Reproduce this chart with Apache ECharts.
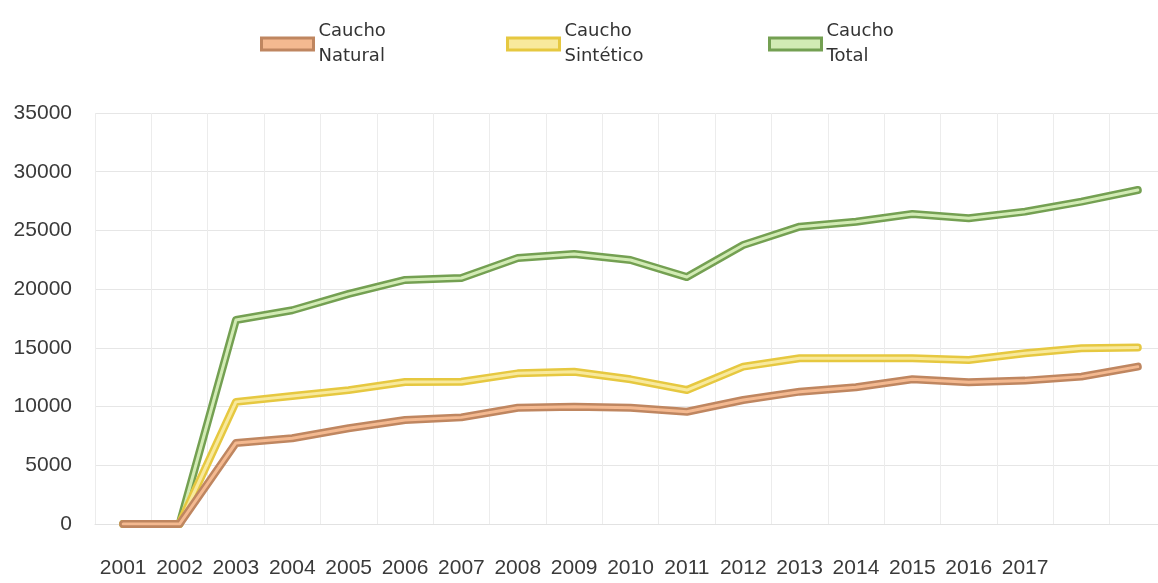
<!DOCTYPE html>
<html>
<head>
<meta charset="utf-8">
<script src="https://cdn.jsdelivr.net/npm/echarts@6/dist/echarts.min.js"></script>
<style>
html,body{margin:0;padding:0;background:#fff;}
#chart{width:1158px;height:583px;}
</style>
</head>
<body>
<div id="chart"></div>
<script>
// Category labels (19 points; last two have no printed label)
const categories = ["2001","2002","2003","2004","2005","2006","2007","2008","2009","2010","2011","2012","2013","2014","2015","2016","2017","",""];
const yTicks = [0, 5000, 10000, 15000, 20000, 25000, 30000, 35000];

const seriesNames = ["Caucho Natural", "Caucho Sintético", "Caucho Total"];
const natural   = [0, 0, 6900, 7300, 8150, 8860, 9080, 9900, 9990, 9900, 9560, 10560, 11270, 11640, 12320, 12070, 12210, 12550, 13400];
const sintetico = [0, 0, 10400, 10900, 11400, 12090, 12120, 12830, 12970, 12320, 11410, 13400, 14110, 14110, 14110, 13970, 14540, 14960, 15020];
const total     = [0, 0, 17370, 18200, 19600, 20780, 20950, 22650, 22990, 22480, 21030, 23760, 25320, 25740, 26400, 26030, 26600, 27450, 28440];

const colors = {
  "Caucho Natural":   {dark: "#bf8660", light: "#f4b990"},
  "Caucho Sintético": {dark: "#e6c840", light: "#f8e99c"},
  "Caucho Total":     {dark: "#74a052", light: "#d2ebb4"}
};
const dataByName = {
  "Caucho Natural": natural,
  "Caucho Sintético": sintetico,
  "Caucho Total": total
};

const chart = echarts.init(document.getElementById('chart'), null, {renderer: 'canvas'});

const drawOrder = ["Caucho Total", "Caucho Sintético", "Caucho Natural"];
const series = [];
drawOrder.forEach(function (name) {
  const c = colors[name];
  series.push({
    name: name, type: 'line', data: dataByName[name],
    symbol: 'none', silent: true,
    lineStyle: {color: c.dark, width: 8, join: 'round', cap: 'round'},
    itemStyle: {color: c.dark}
  });
  series.push({
    name: name, type: 'line', data: dataByName[name],
    symbol: 'none', silent: true,
    lineStyle: {color: c.light, width: 3, join: 'round', cap: 'round'},
    itemStyle: {color: c.light}
  });
});

const legendLefts = [255, 501, 763];
const legends = seriesNames.map(function (name, i) {
  const c = colors[name];
  return {
    data: [{name: name, icon: 'rect', itemStyle: {color: c.light, borderColor: c.dark, borderWidth: 3}}],
    left: legendLefts[i], top: 14,
    itemWidth: 52, itemHeight: 12,
    selectedMode: false,
    formatter: function (n) { return n.replace(' ', '\n'); },
    textStyle: {fontFamily: 'DejaVu Sans', fontSize: 18, lineHeight: 25, color: '#333'}
  };
});

const labelFont = "'Liberation Sans', sans-serif";

chart.setOption({
  backgroundColor: '#ffffff',
  animation: false,
  legend: legends,
  grid: {left: 95, width: 1071, top: 113, height: 411, containLabel: false, outerBoundsMode: 'none'},
  xAxis: {
    type: 'category', data: categories, boundaryGap: true,
    axisLine: {show: true, lineStyle: {color: '#e2e2e2', width: 1}},
    axisTick: {show: false},
    splitLine: {show: true, interval: 0, lineStyle: {color: '#ececec', width: 1}},
    axisLabel: {interval: 0, margin: 34, color: '#3a3a3a', fontSize: 21, fontFamily: labelFont}
  },
  yAxis: {
    type: 'value', min: yTicks[0], max: yTicks[yTicks.length - 1], interval: yTicks[1] - yTicks[0],
    axisLine: {show: false}, axisTick: {show: false},
    splitLine: {show: true, lineStyle: {color: '#e6e6e6', width: 1}},
    axisLabel: {margin: 23, color: '#3a3a3a', fontSize: 21, fontFamily: labelFont,
      formatter: function (v) { return String(v); }}
  },
  series: series
});
</script>
</body>
</html>
